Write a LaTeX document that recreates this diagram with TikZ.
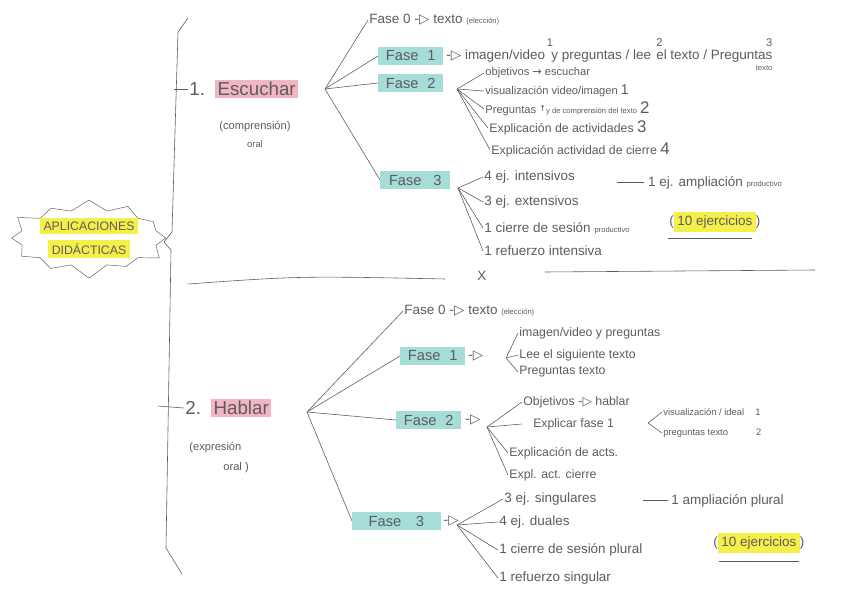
\documentclass[tikz,border=0pt]{standalone}
\usepackage{fontspec}
\setmainfont{Liberation Sans}
\newfontfamily\symfont{DejaVu Sans}
\usetikzlibrary{positioning,shapes.symbols}
\definecolor{faseblue}{HTML}{A6DDD8}
\definecolor{temapink}{HTML}{F2B6C3}
\definecolor{hlyellow}{HTML}{F5EF4A}
\definecolor{ink}{HTML}{5C5C5C}
\newcommand{\tri}{{\symfont -▷}}
\newcommand{\hly}[1]{\colorbox{hlyellow}{#1}}
\newcommand{\sm}[1]{{\fontsize{6.5}{7}\selectfont #1}}

\begin{document}
\begin{tikzpicture}[x=0.03cm,y=-0.03cm,
  line/.style={draw=ink,line width=0.5pt},
  label/.style={anchor=west,inner sep=1pt,text=ink,font=\fontsize{9.5}{11}\selectfont},
  mid/.style={label,font=\fontsize{10.5}{12}\selectfont},
  small/.style={label,font=\fontsize{8}{9}\selectfont},
  big/.style={label,font=\fontsize{11.5}{13}\selectfont},
  fase/.style={big,fill=faseblue,inner sep=2pt,minimum width=1.95cm,minimum height=0.52cm,font=\fontsize{12.5}{14}\selectfont},
  tema/.style={anchor=west,fill=temapink,inner sep=2pt,text=ink,font=\fontsize{16}{18}\selectfont},
]
\useasboundingbox (0,0) rectangle (848,599);

% spine and separators
\draw[line] (188,18) -- (178,32) -- (172,232) -- (164,242) -- (171,250) -- (166,548) -- (182,574);
\draw[line] (188,284) .. controls (300,276) .. (445,279);
\draw[line] (545,272) -- (815,270);

% root
\node[starburst,starburst points=12,starburst point height=0.42cm,draw=ink,line width=0.4pt,
  fill=white,minimum width=3.75cm,minimum height=2.3cm,align=center,inner sep=0pt,
  text=ink,font=\fontsize{10.5}{12}\selectfont] (root) at (89,238)
  {\hly{APLICACIONES}\\[4pt]\hly{DIDÁCTICAS}};

% 1. Escuchar
\node[label,font=\fontsize{16}{18}\selectfont] (e-num) at (188,89) {1.};
\node[tema] (esc) at (215,89) {Escuchar};
\draw[line] (174,89) -- (e-num.west);
\node[label,anchor=center] (e-com) at (255,127) {(comprensión)};
\node[small,anchor=center] (e-oral) at (255,144) {oral};
\coordinate (e-hub) at (325,89);

\node[big] (ef0) at (368,20) {Fase 0 \tri{} texto \sm{(elección)}};
\node[fase] (ef1) at (378,56) {Fase\hspace{0.6em}1};
\node[fase] (ef2) at (378,83) {Fase\hspace{0.6em}2};
\node[fase,minimum width=2.1cm] (ef3) at (380,180) {Fase\hspace{0.8em}3};
\foreach \n in {ef0,ef1,ef2,ef3}
  \draw[line] (e-hub) -- (\n.west);

% Fase 1
\node[big,right=1pt of ef1] (e1a) {\tri{} imagen/video};
\node[big,right=3pt of e1a] (e1b) {y preguntas / lee};
\node[big,right=2pt of e1b] (e1c) {el texto / Preguntas};
\node[label,anchor=south] (e1n1) at (e1b.north west) {1};
\node[label,anchor=south west] (e1n2) at (e1c.north west) {2};
\node[label,anchor=south east] (e1n3) at (e1c.north east) {3};
\node[label,anchor=north east,font=\fontsize{6.5}{7}\selectfont] (e1tx) at (e1c.south east) {texto};

% Fase 2
\coordinate (e2-hub) at (457,89);
\node[label] (e2a) at (484,73) {objetivos {\symfont →} escuchar};
\node[label] (e2b) at (484,91) {visualización video/imagen {\large 1}};
\node[label] (e2c) at (484,109) {Preguntas \raisebox{2pt}{\symfont\scriptsize ↑}\sm{y de comprensión del texto} {\Large 2}};
\node[mid] (e2d) at (488,128) {Explicación de actividades {\Large 3}};
\node[mid] (e2e) at (490,150) {Explicación actividad de cierre {\Large 4}};
\foreach \n in {e2a,e2b,e2c,e2d,e2e}
  \draw[line] (e2-hub) -- (\n.west);

% Fase 3
\coordinate (e3-hub) at (458,188);
\node[big] (e3a) at (483,177) {4 ej. intensivos};
\node[big] (e3amp) at (616,183) {\rule[0.3em]{2em}{0.5pt} 1 ej. ampliación \sm{productivo}};
\node[big] (e3b) at (483,202) {3 ej. extensivos};
\node[big] (e3c) at (483,228) {1 cierre de sesión \sm{productivo}};
\node[big] (e3d) at (483,251) {1 refuerzo intensiva};
\node[big] (e3x) at (476,276) {X};
\foreach \n in {e3a,e3b,e3c,e3d}
  \draw[line] (e3-hub) -- (\n.west);
\node[big] (e-ten) at (668,222) {(\colorbox{hlyellow}{10 ejercicios})};
\draw[line] ([yshift=-4pt]e-ten.south west) -- ([yshift=-4pt,xshift=-8pt]e-ten.south east);

% 2. Hablar
\node[label,font=\fontsize{16}{18}\selectfont] (h-num) at (184,408) {2.};
\node[tema] (hab) at (211,408) {Hablar};
\draw[line] (158,406) -- (h-num.west);
\node[label] (h-exp) at (188,448) {(expresión};
\node[label] (h-oral) at (222,468) {oral )};
\coordinate (h-hub) at (307,412);

\node[big] (hf0) at (403,311) {Fase 0 \tri{} texto \sm{(elección)}};
\node[fase] (hf1) at (400,356) {Fase\hspace{0.6em}1};
\node[fase] (hf2) at (396,420) {Fase\hspace{0.6em}2};
\node[fase,minimum width=2.65cm] (hf3) at (352,521) {Fase\hspace{1em}3};
\foreach \n in {hf0,hf1,hf2,hf3}
  \draw[line] (h-hub) -- (\n.west);

% Fase 1
\node[big,right=1pt of hf1] (h1t) {\tri};
\coordinate (h1-hub) at (506,358);
\node[mid] (h1a) at (518,333) {imagen/video y preguntas};
\node[mid] (h1b) at (518,355) {Lee el siguiente texto};
\node[mid] (h1c) at (518,372) {Preguntas texto};
\foreach \n in {h1a,h1b,h1c}
  \draw[line] (h1-hub) -- (\n.west);

% Fase 2
\node[big,right=2pt of hf2] (h2t) {\tri};
\coordinate (h2-hub) at (487,427);
\node[mid] (h2a) at (522,402) {Objetivos \tri{} hablar};
\node[mid] (h2b) at (522,424) {\hspace{0.8em}Explicar fase 1};
\node[mid] (h2c) at (508,453) {Explicación de acts.};
\node[mid] (h2d) at (508,475) {Expl. act. cierre};
\foreach \n in {h2a,h2b,h2c,h2d}
  \draw[line] (h2-hub) -- (\n.west);
\coordinate (h2b-hub) at (648,423);
\node[small] (h2b1) at (662,412) {visualización / ideal\hspace{1.2em}1};
\node[small] (h2b2) at (662,433) {preguntas texto\hspace{3em}2};
\foreach \n in {h2b1,h2b2}
  \draw[line] (h2b-hub) -- (\n.west);

% Fase 3
\node[big,right=1pt of hf3] (h3t) {\tri};
\coordinate (h3-hub) at (457,525);
\node[big] (h3a) at (503,499) {3 ej. singulares};
\node[big] (h3amp) at (642,501) {\rule[0.3em]{1.8em}{0.5pt} 1 ampliación plural};
\node[big] (h3b) at (498,522) {4 ej. duales};
\node[big] (h3c) at (498,550) {1 cierre de sesión plural};
\node[big] (h3d) at (498,578) {1 refuerzo singular};
\foreach \n in {h3a,h3b,h3c,h3d}
  \draw[line] (h3-hub) -- (\n.west);
\node[big] (h-ten) at (712,543) {(\colorbox{hlyellow}{10 ejercicios})};
\draw[line] ([yshift=-6pt,xshift=6pt]h-ten.south west) -- ([yshift=-6pt,xshift=-6pt]h-ten.south east);
\end{tikzpicture}
\end{document}
